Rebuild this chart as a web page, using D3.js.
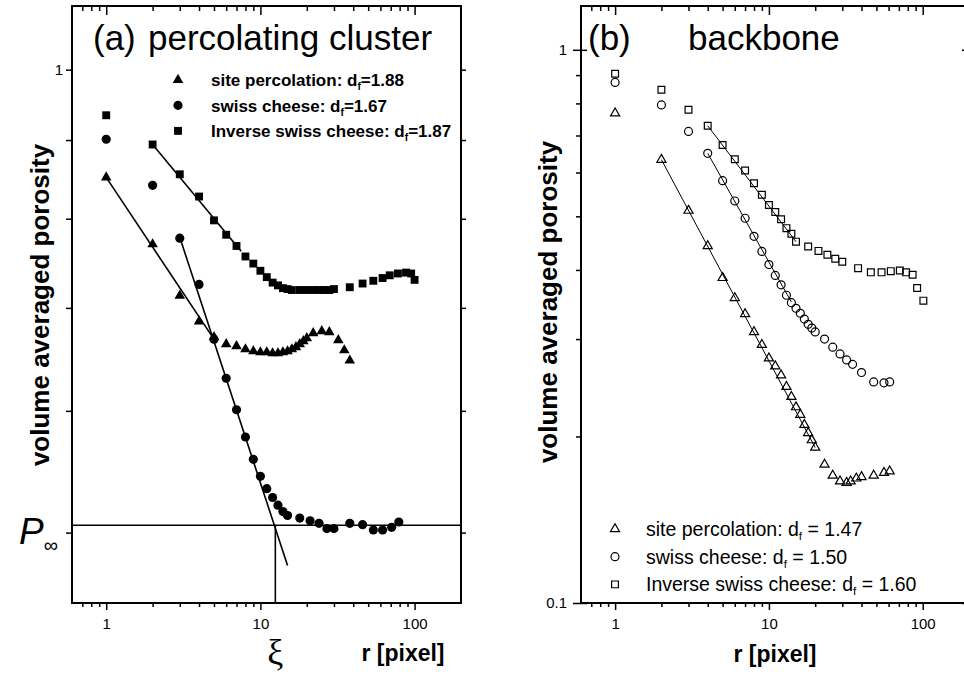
<!DOCTYPE html>
<html>
<head>
<meta charset="utf-8">
<script src="https://cdn.jsdelivr.net/npm/d3@7"></script>
<style>
  body { margin: 0; background: #fff; }
  svg { display: block; font-family: "Liberation Sans", Arial, sans-serif; }
</style>
</head>
<body>
<svg id="chart" width="964" height="679"></svg>
<script>
// panel (a) percolating cluster -- filled symbols
var aSiteR  = [1, 2, 3, 4, 5, 6, 7, 8, 9, 10, 11, 12, 13, 14, 15, 16, 17, 18, 19, 20, 22, 25, 28, 32, 35, 38];
var aSiteP  = [0.851, 0.770, 0.713, 0.686, 0.670, 0.663, 0.661, 0.658, 0.656, 0.655, 0.655, 0.654, 0.654, 0.655, 0.656, 0.658, 0.660, 0.663, 0.666, 0.669, 0.674, 0.676, 0.675, 0.667, 0.657, 0.647];
var aSwissR = [1, 2, 3, 4, 5, 6, 7, 8, 9, 10, 11, 12, 13, 14, 15, 18, 21, 24, 27, 30, 38, 46, 54, 62, 71, 79];
var aSwissP = [0.901, 0.841, 0.777, 0.725, 0.668, 0.630, 0.601, 0.577, 0.558, 0.544, 0.534, 0.527, 0.521, 0.516, 0.513, 0.511, 0.509, 0.507, 0.503, 0.503, 0.507, 0.506, 0.502, 0.502, 0.504, 0.508];
var aInvR   = [1, 2, 3, 4, 5, 6, 7, 8, 9, 10, 11, 12, 13, 14, 15, 16, 18, 20, 22, 24, 26, 28, 30, 38, 46, 54, 62, 69, 78, 88, 95, 100];
var aInvP   = [0.934, 0.894, 0.855, 0.827, 0.798, 0.781, 0.768, 0.756, 0.748, 0.740, 0.733, 0.727, 0.724, 0.721, 0.720, 0.719, 0.719, 0.719, 0.719, 0.719, 0.719, 0.719, 0.720, 0.722, 0.726, 0.729, 0.732, 0.735, 0.737, 0.738, 0.737, 0.730];
// fitted power laws (end points)
var aSiteFitR = [1, 5.2],   aSiteFitP = [0.851, 0.664];
var aSwissFitR = [3, 15],   aSwissFitP = [0.778, 0.476];
var aInvFitR = [2, 7.5],    aInvFitP = [0.894, 0.762];
var pInf = 0.5056;
var xi = 12.5;

// panel (b) backbone -- open symbols
var bSiteR  = [1, 2, 3, 4, 5, 6, 7, 8, 9, 10, 11, 12, 13, 14, 15, 16, 17, 18, 19, 20, 23, 26, 29, 32, 34, 37, 40, 48, 56, 61];
var bSiteP  = [0.768, 0.633, 0.512, 0.442, 0.387, 0.356, 0.333, 0.309, 0.293, 0.277, 0.268, 0.258, 0.246, 0.236, 0.226, 0.219, 0.210, 0.203, 0.197, 0.191, 0.178, 0.170, 0.166, 0.165, 0.166, 0.168, 0.169, 0.170, 0.172, 0.173];
var bSwissR = [1, 2, 3, 4, 5, 6, 7, 8, 9, 10, 11, 12, 13, 14, 15, 16, 17, 18, 19, 20, 23, 26, 29, 32, 35, 40, 48, 56, 61];
var bSwissP = [0.873, 0.795, 0.712, 0.650, 0.580, 0.533, 0.496, 0.460, 0.432, 0.409, 0.391, 0.376, 0.360, 0.349, 0.341, 0.334, 0.326, 0.319, 0.314, 0.309, 0.300, 0.290, 0.282, 0.275, 0.270, 0.261, 0.251, 0.250, 0.251];
var bInvR   = [1, 2, 3, 4, 5, 6, 7, 8, 9, 10, 11, 12, 13, 14, 15, 18, 21, 24, 27, 30, 38, 46, 54, 62, 71, 78, 86, 92, 101];
var bInvP   = [0.905, 0.847, 0.779, 0.729, 0.673, 0.634, 0.605, 0.574, 0.547, 0.524, 0.509, 0.494, 0.476, 0.465, 0.450, 0.441, 0.433, 0.426, 0.419, 0.414, 0.403, 0.396, 0.396, 0.398, 0.399, 0.396, 0.392, 0.371, 0.352];
var bSiteFitR = [2, 20],    bSiteFitP = [0.633, 0.191];
var bSwissFitR = [4, 14],   bSwissFitP = [0.650, 0.350];
var bInvFitR = [4, 15],     bInvFitP = [0.729, 0.450];

// axes
var xDomain = [0.6, 200];
var xMajor = [1, 10, 100];
var xMinor = [0.7, 0.8, 0.9, 2, 3, 4, 5, 6, 7, 8, 9, 20, 30, 40, 50, 60, 70, 80, 90];
var aYDomain = [0.45, 1.1];
var aYTicks = [1, 0.9, 0.8, 0.7, 0.6, 0.5];
var bYDomain = [0.1, 1.2];
var bYMajor = [1, 0.1];
var bYMinor = [0.9, 0.8, 0.7, 0.6, 0.5, 0.4, 0.3, 0.2];

// legends
var aLegendName = ['site percolation: d', 'swiss cheese: d', 'Inverse swiss cheese: d'];
var aLegendDf = ['=1.88', '=1.67', '=1.87'];
var bLegendName = ['site percolation: d', 'swiss cheese: d', 'Inverse swiss cheese: d'];
var bLegendDf = [' = 1.47', ' = 1.50', ' = 1.60'];

var svg = d3.select('#chart');

var boxA = {left: 72, right: 461, top: 6, bottom: 603};
var boxB = {left: 581, right: 969, top: 6, bottom: 603};

function scales(box, yDomain) {
    return {
        x: d3.scaleLog().domain(xDomain).range([box.left, box.right]),
        y: d3.scaleLog().domain(yDomain).range([box.bottom, box.top])
    };
}

function tidy(g, size) {
    g.select('.domain').remove();
    g.attr('font-family', null).attr('font-size', size || 15);
    g.selectAll('line').attr('stroke', '#000').attr('stroke-width', 1.5);
    g.selectAll('text').attr('fill', '#000');
}

function xAxes(sc, box) {
    // bottom ticks point out, top ticks point in
    svg.append('g').attr('transform', 'translate(0,' + box.bottom + ')')
        .call(d3.axisBottom(sc.x).tickValues(xMinor).tickSize(4).tickSizeOuter(0).tickFormat(''))
        .call(tidy);
    svg.append('g').attr('transform', 'translate(0,' + box.bottom + ')')
        .call(d3.axisBottom(sc.x).tickValues(xMajor).tickSize(7).tickPadding(8).tickSizeOuter(0).tickFormat(d3.format('d')))
        .call(tidy);
    svg.append('g').attr('transform', 'translate(0,' + box.top + ')')
        .call(d3.axisTop(sc.x).tickValues(xMinor).tickSize(-5).tickSizeOuter(0).tickFormat(''))
        .call(tidy);
    svg.append('g').attr('transform', 'translate(0,' + box.top + ')')
        .call(d3.axisTop(sc.x).tickValues(xMajor).tickSize(-9).tickSizeOuter(0).tickFormat(''))
        .call(tidy);
}

function frame(box) {
    svg.append('rect')
        .attr('x', box.left).attr('y', box.top)
        .attr('width', box.right - box.left).attr('height', box.bottom - box.top)
        .attr('fill', 'none').attr('stroke', '#000').attr('stroke-width', 2);
}

function dots(sc, rs, ps, type, size, open) {
    svg.append('g').selectAll('path')
        .data(rs.map(function(r, i) { return [r, ps[i]]; }))
        .enter().append('path')
        .attr('d', d3.symbol().type(type).size(size))
        .attr('transform', function(d) { return 'translate(' + sc.x(d[0]) + ',' + sc.y(d[1]) + ')'; })
        .attr('fill', open ? 'none' : '#000')
        .attr('stroke', open ? '#000' : 'none')
        .attr('stroke-width', 1.2);
}

function fit(sc, rs, ps, w) {
    var line = d3.line()
        .x(function(d) { return sc.x(d[0]); })
        .y(function(d) { return sc.y(d[1]); });
    svg.append('path')
        .datum(rs.map(function(r, i) { return [r, ps[i]]; }))
        .attr('d', line)
        .attr('fill', 'none').attr('stroke', '#000').attr('stroke-width', w);
}

function legend(x0, y0, dy, names, dfs, types, sizes, open, fontSize, weight) {
    names.forEach(function(name, i) {
        var y = y0 + i * dy;
        svg.append('path')
            .attr('d', d3.symbol().type(types[i]).size(sizes[i])())
            .attr('transform', 'translate(' + x0 + ',' + (y - fontSize * 0.36) + ')')
            .attr('fill', open ? 'none' : '#000')
            .attr('stroke', open ? '#000' : 'none')
            .attr('stroke-width', 1.2);
        var t = svg.append('text')
            .attr('x', x0 + (open ? 31 : 33)).attr('y', y)
            .attr('font-size', fontSize).attr('font-weight', weight);
        t.append('tspan').text(name);
        t.append('tspan').attr('font-size', fontSize * 0.6).attr('dy', 4).text('f');
        t.append('tspan').attr('dy', -4).text(dfs[i]);
    });
}

function yTitle(x, y) {
    svg.append('text')
        .attr('transform', 'translate(' + x + ',' + y + ') rotate(-90)')
        .attr('text-anchor', 'middle').attr('dy', '0.35em')
        .attr('font-size', 26).attr('font-weight', 'bold')
        .text('volume averaged porosity');
}

// ---------- panel (a)
var sa = scales(boxA, aYDomain);

svg.append('g').attr('transform', 'translate(' + boxA.left + ',0)')
    .call(d3.axisLeft(sa.y).tickValues(aYTicks).tickSize(6).tickPadding(3).tickSizeOuter(0)
        .tickFormat(function(d) { return d === 1 ? '1' : ''; }))
    .call(tidy);
svg.append('g').attr('transform', 'translate(' + boxA.right + ',0)')
    .call(d3.axisRight(sa.y).tickValues(aYTicks).tickSize(5).tickSizeOuter(0).tickFormat(''))
    .call(tidy);
xAxes(sa, boxA);
frame(boxA);

// P_inf level and xi
svg.append('line')
    .attr('x1', boxA.left).attr('x2', boxA.right)
    .attr('y1', sa.y(pInf)).attr('y2', sa.y(pInf))
    .attr('stroke', '#000').attr('stroke-width', 1.6);
svg.append('line')
    .attr('x1', sa.x(xi)).attr('x2', sa.x(xi))
    .attr('y1', sa.y(pInf)).attr('y2', boxA.bottom)
    .attr('stroke', '#000').attr('stroke-width', 1.6);

fit(sa, aSiteFitR, aSiteFitP, 1.6);
fit(sa, aSwissFitR, aSwissFitP, 1.6);
fit(sa, aInvFitR, aInvFitP, 1.6);

dots(sa, aSiteR, aSiteP, d3.symbolTriangle, 48, false);
dots(sa, aSwissR, aSwissP, d3.symbolCircle, 66, false);
dots(sa, aInvR, aInvP, d3.symbolSquare, 62, false);

svg.append('text').attr('x', 93).attr('y', 50).attr('font-size', 35).text('(a)');
svg.append('text').attr('x', 148).attr('y', 50).attr('font-size', 35).text('percolating cluster');
legend(178, 86, 25.5, aLegendName, aLegendDf,
    [d3.symbolTriangle, d3.symbolCircle, d3.symbolSquare], [48, 66, 62], false, 17, 'bold');

// P with infinity subscript, one text element
var pLab = svg.append('text').attr('x', 19).attr('y', 544);
pLab.append('tspan').attr('font-size', 37).attr('font-style', 'italic').text('P');
pLab.append('tspan').attr('font-size', 20).attr('dy', 8).text('\u221E');

svg.append('text').attr('x', sa.x(xi)).attr('y', 664).attr('text-anchor', 'middle')
    .attr('font-family', '"Liberation Serif", serif').attr('font-size', 36).text('\u03BE');
svg.append('text').attr('x', 403).attr('y', 661).attr('text-anchor', 'middle')
    .attr('font-size', 23).attr('font-weight', 'bold').text('r [pixel]');
yTitle(40, 305);

// ---------- panel (b)
var sb = scales(boxB, bYDomain);

svg.append('g').attr('transform', 'translate(' + boxB.left + ',0)')
    .call(d3.axisLeft(sb.y).tickValues(bYMinor).tickSize(5).tickSizeOuter(0).tickFormat(''))
    .call(tidy);
svg.append('g').attr('transform', 'translate(' + boxB.left + ',0)')
    .call(d3.axisLeft(sb.y).tickValues(bYMajor).tickSize(8).tickPadding(6).tickSizeOuter(0)
        .tickFormat(function(d) { return d === 1 ? '1' : '0.1'; }))
    .call(tidy);
svg.append('g').attr('transform', 'translate(' + boxB.left + ',0)')
    .call(d3.axisLeft(sb.y).tickValues(bYMajor).tickSize(-6).tickSizeOuter(0).tickFormat(''))
    .call(tidy);
svg.append('g').attr('transform', 'translate(' + boxB.right + ',0)')
    .call(d3.axisRight(sb.y).tickValues(bYMajor).tickSize(-7).tickSizeOuter(0).tickFormat(''))
    .call(tidy);
xAxes(sb, boxB);
frame(boxB);

fit(sb, bSiteFitR, bSiteFitP, 1);
fit(sb, bSwissFitR, bSwissFitP, 1);
fit(sb, bInvFitR, bInvFitP, 1);

dots(sb, bSiteR, bSiteP, d3.symbolTriangle, 36, true);
dots(sb, bSwissR, bSwissP, d3.symbolCircle, 50, true);
dots(sb, bInvR, bInvP, d3.symbolSquare, 46, true);

svg.append('text').attr('x', 588).attr('y', 50).attr('font-size', 35).text('(b)');
svg.append('text').attr('x', 688).attr('y', 50).attr('font-size', 35).text('backbone');
legend(615, 536, 27.7, bLegendName, bLegendDf,
    [d3.symbolTriangle, d3.symbolCircle, d3.symbolSquare], [36, 50, 46], true, 19.5, 'normal');

svg.append('text').attr('x', 775).attr('y', 662).attr('text-anchor', 'middle')
    .attr('font-size', 23).attr('font-weight', 'bold').text('r [pixel]');
yTitle(548, 302);
</script>
</body>
</html>
